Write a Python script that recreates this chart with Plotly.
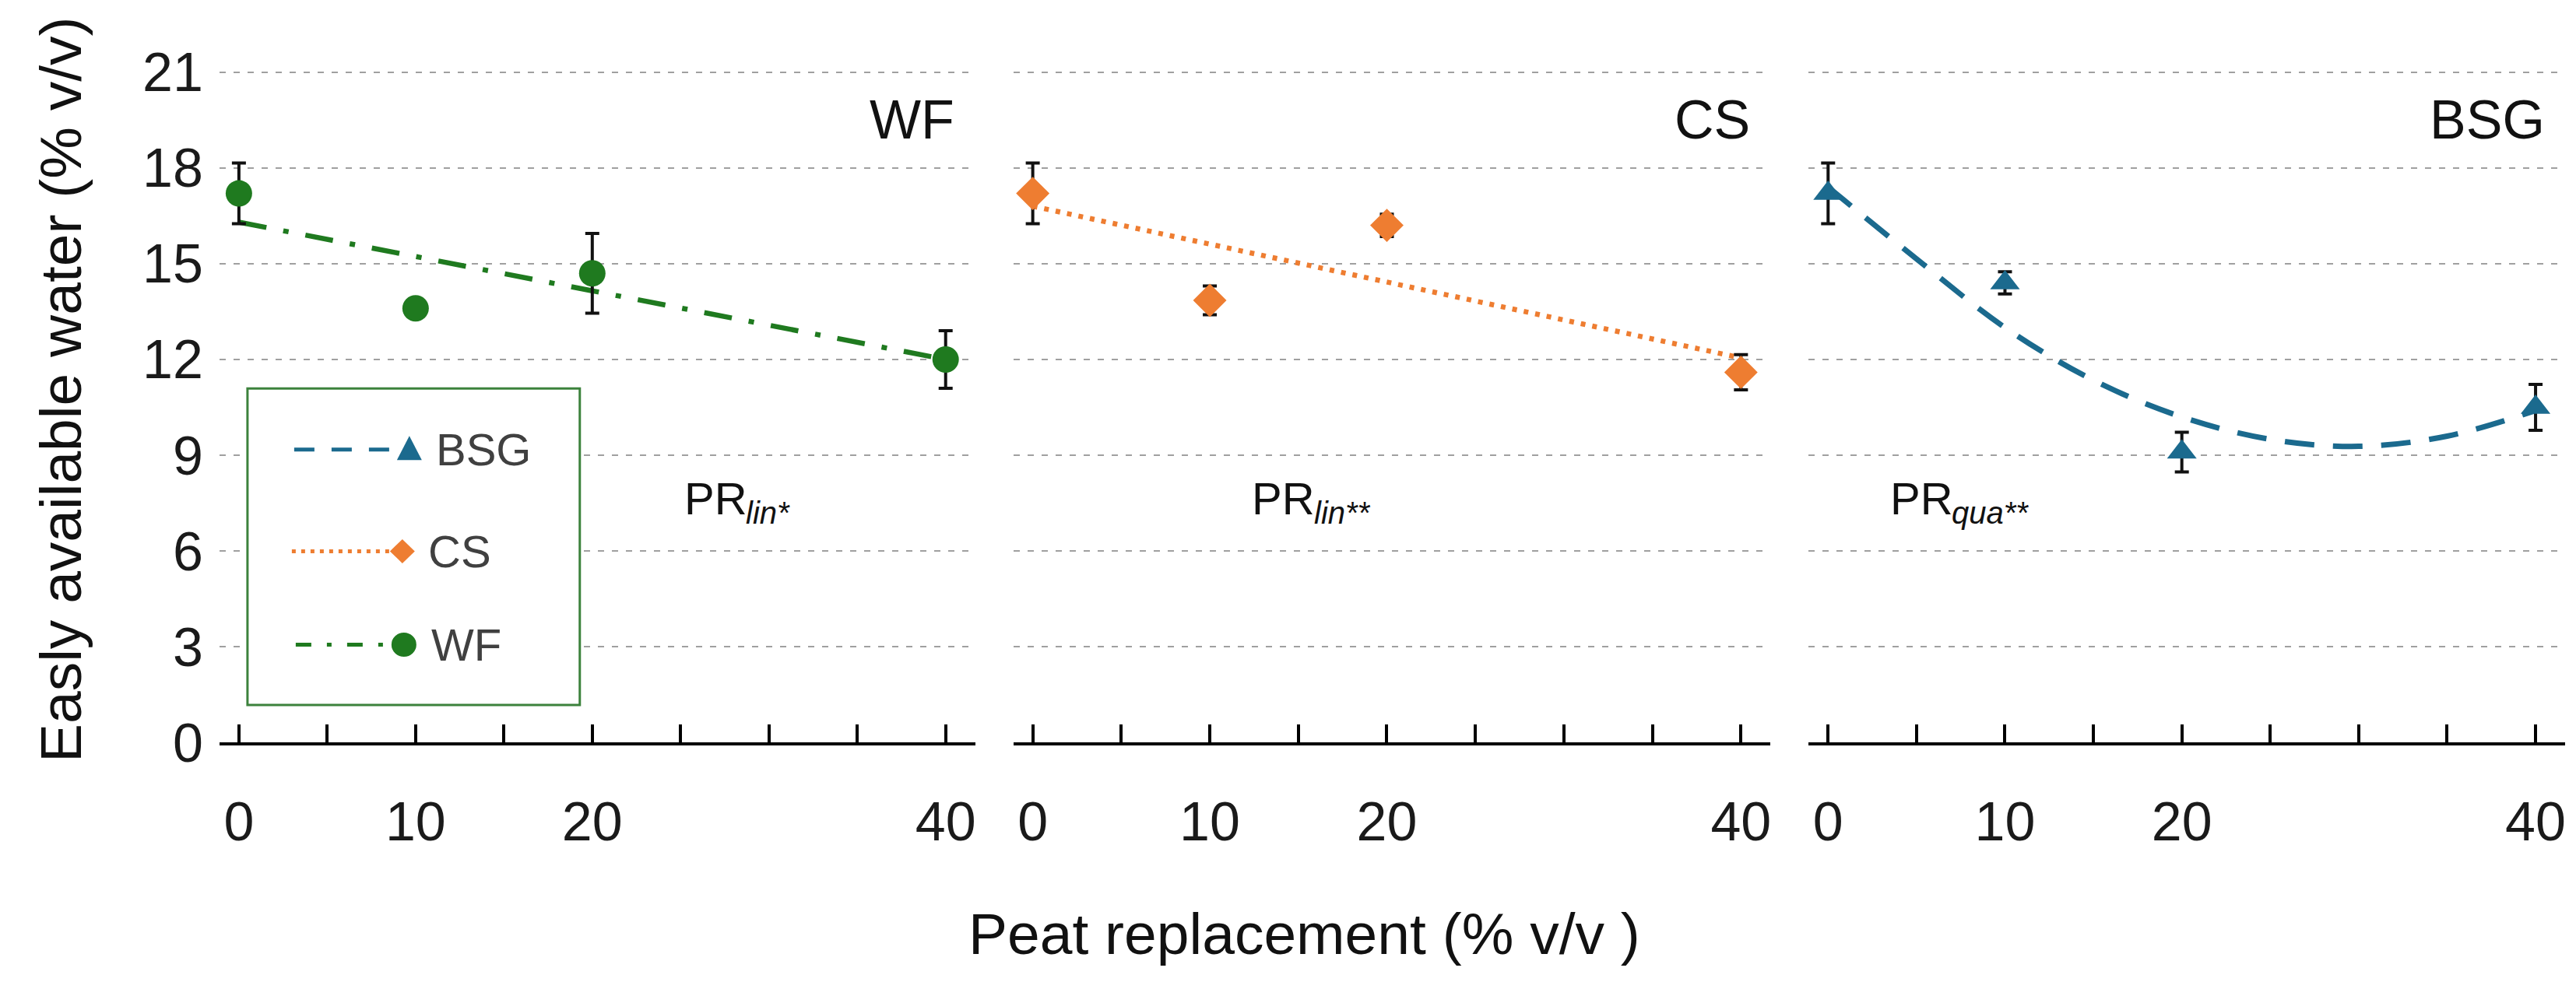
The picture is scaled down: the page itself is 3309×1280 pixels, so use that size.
import plotly.graph_objects as go

# ---------------- data ----------------
peat = [0, 10, 20, 40]

wf_mean = [17.2, 13.6, 14.7, 12.0]
wf_sd = [0.95, 0.2, 1.25, 0.9]
cs_mean = [17.2, 13.85, 16.2, 11.6]
cs_sd = [0.95, 0.45, 0.35, 0.55]
bsg_mean = [17.2, 14.4, 9.1, 10.5]
bsg_sd = [0.95, 0.35, 0.62, 0.72]

wf_fit_x = [0, 40]
wf_fit_y = [16.3, 12.0]
cs_fit_x = [0, 40]
cs_fit_y = [16.8, 12.05]
bsg_fit_x = [0, 5, 10, 15, 20, 25, 30, 35, 40]
bsg_fit_y = [17.4, 15.15, 13.0, 11.35, 10.2, 9.5, 9.28, 9.6, 10.4]

y_tickvals = [0, 3, 6, 9, 12, 15, 18, 21]
x_tickvals = [0, 10, 20, 40]
x_ticktext = ["0", "10", "20", "40"]

series_names = ["BSG", "CS", "WF"]
panel_names = ["WF", "CS", "BSG"]
pr_main = ["PR", "PR", "PR"]
pr_sub = ["lin*", "lin**", "qua**"]

# ---------------- styling ----------------
W, H = 3309, 1280
FONT = "Liberation Sans, Arial, sans-serif"
GREEN = "#1f7a1f"
ORANGE = "#ee7d31"
BLUE = "#1b6a8e"
LEG_BORDER = "#3c823c"


def px(x):
    return x / W


def py(y):
    return 1 - y / H


panel_px = [(274, 1245), (1294, 2267), (2316, 3288)]
xrange = [-1.1, 41.67]
yrange = [0, 22]
ydomain = [py(977), py(45)]

fig = go.Figure()

panels = [
    dict(mean=wf_mean, sd=wf_sd, fx=wf_fit_x, fy=wf_fit_y, color=GREEN,
         symbol="circle", msize=34, dash="36px,22px,7px,22px", shape="linear", lw=6.5),
    dict(mean=cs_mean, sd=cs_sd, fx=cs_fit_x, fy=cs_fit_y, color=ORANGE,
         symbol="diamond", msize=33, dash="6px,9px", shape="linear", lw=6.5),
    dict(mean=bsg_mean, sd=bsg_sd, fx=bsg_fit_x, fy=bsg_fit_y, color=BLUE,
         symbol="triangle-up", msize=33, dash="38px,24px", shape="spline", lw=7),
]

for i, p in enumerate(panels):
    xa = "x" if i == 0 else f"x{i+1}"
    ya = "y" if i == 0 else f"y{i+1}"
    fig.add_trace(go.Scatter(
        x=p["fx"], y=p["fy"], mode="lines", xaxis=xa, yaxis=ya,
        line=dict(color=p["color"], width=p["lw"], dash=p["dash"], shape=p["shape"]),
        showlegend=False, hoverinfo="skip"))
    fig.add_trace(go.Scatter(
        x=peat, y=p["mean"], mode="markers", xaxis=xa, yaxis=ya,
        marker=dict(color=p["color"], size=p["msize"], symbol=p["symbol"],
                    line=dict(width=0)),
        error_y=dict(type="data", array=p["sd"], color="#111111",
                     thickness=4, width=9),
        showlegend=False))

axis_common_x = dict(
    range=xrange, tickmode="array", tickvals=x_tickvals, ticktext=x_ticktext,
    ticks="inside", ticklen=23, tickwidth=4, tickcolor="black",
    minor=dict(tick0=0, dtick=5, ticks="inside", ticklen=23, tickwidth=4,
               tickcolor="black", showgrid=False),
    showline=True, linecolor="black", linewidth=4, showgrid=False,
    zeroline=False, ticklabelstandoff=38,
    tickfont=dict(family=FONT, size=70, color="#1a1a1a"),
)
axis_common_y = dict(
    range=yrange, domain=ydomain, tickmode="array", tickvals=y_tickvals,
    ticks="", showline=False, zeroline=False, showgrid=True,
    gridcolor="#a0a0a0", gridwidth=2, griddash="8px,10px",
    tickfont=dict(family=FONT, size=70, color="#1a1a1a"),
)

layout = dict(
    width=W, height=H, margin=dict(l=0, r=0, t=0, b=0),
    paper_bgcolor="white", plot_bgcolor="white", showlegend=False,
    font=dict(family=FONT, color="#1a1a1a"),
)
for i, (a, b) in enumerate(panel_px):
    xk = "xaxis" if i == 0 else f"xaxis{i+1}"
    yk = "yaxis" if i == 0 else f"yaxis{i+1}"
    xa_anchor = "y" if i == 0 else f"y{i+1}"
    ya_anchor = "x" if i == 0 else f"x{i+1}"
    layout[xk] = dict(axis_common_x, domain=[px(a), px(b)], anchor=xa_anchor)
    yd = dict(axis_common_y, anchor=ya_anchor, showticklabels=(i == 0),
              ticklabelstandoff=20)
    if i > 0:
        yd["matches"] = "y"
    layout[yk] = yd
fig.update_layout(**layout)

annotations = []
pr_pos = [25.1, 12.3, 3.4]
sub_off = 3.5
for i in range(3):
    xr = "x" if i == 0 else f"x{i+1}"
    yr = "y" if i == 0 else f"y{i+1}"
    annotations.append(dict(
        x=40.6, y=19.5, xref=xr, yref=yr, text=panel_names[i],
        xanchor="right", yanchor="middle", showarrow=False,
        font=dict(family=FONT, size=70, color="#111111")))
    annotations.append(dict(
        x=pr_pos[i], y=7.65, xref=xr, yref=yr, text=pr_main[i],
        xanchor="left", yanchor="middle", showarrow=False,
        font=dict(family=FONT, size=58, color="#111111")))
    annotations.append(dict(
        x=pr_pos[i] + sub_off, y=7.2, xref=xr, yref=yr,
        text="<i>" + pr_sub[i] + "</i>",
        xanchor="left", yanchor="middle", showarrow=False,
        font=dict(family=FONT, size=40, color="#111111")))

# axis titles
annotations.append(dict(
    x=px(70), y=py(508), xref="paper", yref="paper",
    text="Easly available water (% v/v)", textangle=-90,
    xanchor="center", yanchor="middle", showarrow=False,
    font=dict(family=FONT, size=75, color="#111111")))
annotations.append(dict(
    x=px(1668), y=py(1230), xref="paper", yref="paper",
    text="Peat replacement (% v/v )",
    xanchor="center", yanchor="middle", showarrow=False,
    font=dict(family=FONT, size=75, color="#111111")))

# ---------------- custom legend (box with long line samples) ----------------
shapes = []
shapes.append(dict(type="rect", xref="paper", yref="paper",
                   x0=px(310), x1=px(737), y0=py(927), y1=py(507),
                   line=dict(color=LEG_BORDER, width=3), fillcolor="white",
                   layer="above"))
leg_rows = [
    dict(name=series_names[0], y=588, x0=370, x1=512, mx=518, tx=550,
         color=BLUE, dash="26px,22px", kind="tri"),
    dict(name=series_names[1], y=723, x0=367, x1=505, mx=509, tx=540,
         color=ORANGE, dash="5px,7px", kind="dia"),
    dict(name=series_names[2], y=847, x0=372, x1=500, mx=511, tx=544,
         color=GREEN, dash="20px,20px,6px,20px", kind="circ"),
]
for r in leg_rows:
    shapes.append(dict(type="line", xref="paper", yref="paper",
                       x0=px(r["x0"]), x1=px(r["x1"]), y0=py(r["y"]), y1=py(r["y"]),
                       line=dict(color=r["color"], width=5, dash=r["dash"]),
                       layer="above"))
    cx, cy = r["mx"], r["y"]
    if r["kind"] == "tri":
        path = (f"M{px(cx-16)},{py(cy+14)} L{px(cx+16)},{py(cy+14)} "
                f"L{px(cx)},{py(cy-18)} Z")
        shapes.append(dict(type="path", xref="paper", yref="paper", path=path,
                           fillcolor=r["color"], line=dict(width=0), layer="above"))
    elif r["kind"] == "dia":
        path = (f"M{px(cx-16)},{py(cy)} L{px(cx)},{py(cy-16)} "
                f"L{px(cx+16)},{py(cy)} L{px(cx)},{py(cy+16)} Z")
        shapes.append(dict(type="path", xref="paper", yref="paper", path=path,
                           fillcolor=r["color"], line=dict(width=0), layer="above"))
    else:
        shapes.append(dict(type="circle", xref="paper", yref="paper",
                           x0=px(cx-16), x1=px(cx+16), y0=py(cy+16), y1=py(cy-16),
                           fillcolor=r["color"], line=dict(width=0), layer="above"))
    annotations.append(dict(
        x=px(r["tx"]), y=py(r["y"]), xref="paper", yref="paper",
        text=r["name"], xanchor="left", yanchor="middle", showarrow=False,
        font=dict(family=FONT, size=58, color="#404040")))

fig.update_layout(annotations=annotations, shapes=shapes)

fig.write_html("out.html")
